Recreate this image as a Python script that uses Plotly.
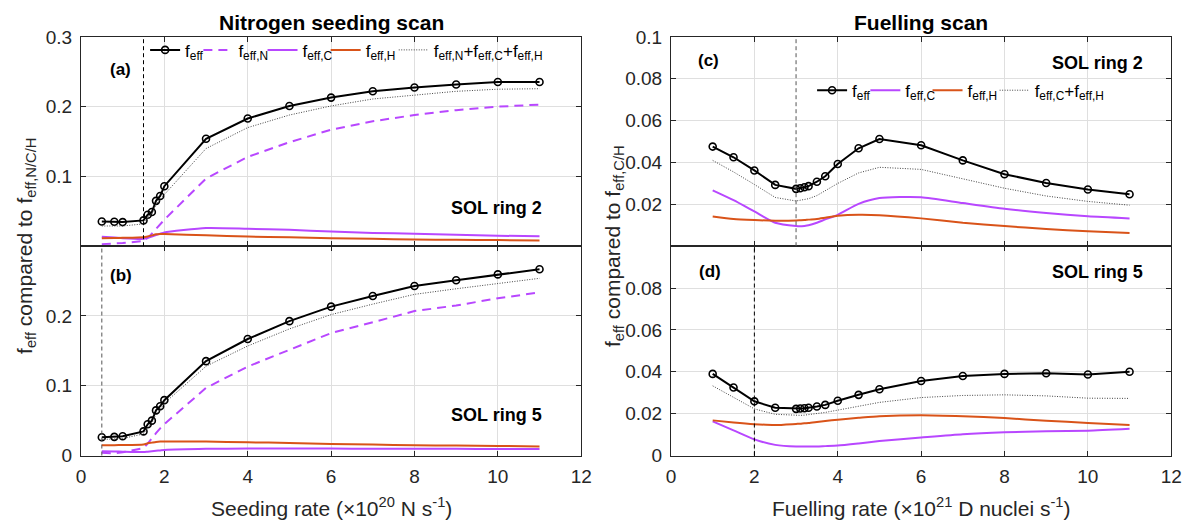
import plotly.graph_objects as go

# ---------------- Nitrogen seeding scan ----------------
seed_rate = [0.5, 0.8, 1.0, 1.5, 1.6, 1.7, 1.8, 1.9, 2.0, 3, 4, 5, 6, 7, 8, 9, 10, 11]

# SOL ring 2
ring2_seed_feff = [0.0355, 0.035, 0.0346, 0.037, 0.045, 0.049, 0.065, 0.072, 0.086,
                   0.154, 0.183, 0.201, 0.213, 0.222, 0.2275, 0.2317, 0.2353, 0.2353]
ring2_seed_N = [0.003, 0.0038, 0.0046, 0.0074, 0.012, 0.018, 0.025, 0.032, 0.038,
                0.097, 0.128, 0.149, 0.167, 0.179, 0.188, 0.195, 0.200, 0.203]
ring2_seed_C = [0.0134, 0.0124, 0.0115, 0.0106, 0.012, 0.014, 0.016, 0.018, 0.0198,
                0.026, 0.025, 0.0235, 0.021, 0.019, 0.018, 0.0166, 0.015, 0.0143]
ring2_seed_H = [0.0115, 0.0118, 0.012, 0.0129, 0.014, 0.0155, 0.017, 0.0175, 0.0175,
                0.0157, 0.0138, 0.013, 0.0115, 0.0106, 0.0097, 0.0092, 0.0088, 0.0083]
ring2_seed_sum = [0.029, 0.0286, 0.029, 0.032, 0.041, 0.046, 0.060, 0.067, 0.074,
                  0.140, 0.170, 0.188, 0.201, 0.211, 0.217, 0.222, 0.225, 0.2257]

# SOL ring 5
ring5_seed_feff = [0.0263, 0.0268, 0.0277, 0.0346, 0.0448, 0.050, 0.0647, 0.0707, 0.0794,
                   0.1353, 0.167, 0.1926, 0.2134, 0.2286, 0.243, 0.2513, 0.2596, 0.267]
ring5_seed_N = [0.004, 0.003, 0.0046, 0.0106, 0.017, 0.025, 0.032, 0.039, 0.045,
                0.097, 0.1275, 0.1515, 0.1755, 0.191, 0.207, 0.215, 0.2254, 0.2337]
ring5_seed_C = [0.006, 0.0058, 0.0055, 0.005, 0.0056, 0.0062, 0.0068, 0.0074, 0.008,
                0.0097, 0.010, 0.010, 0.010, 0.0098, 0.0097, 0.0096, 0.0095, 0.0095]
ring5_seed_H = [0.0148, 0.0149, 0.015, 0.016, 0.0175, 0.0185, 0.0195, 0.020, 0.020,
                0.020, 0.019, 0.018, 0.0166, 0.0157, 0.0148, 0.0143, 0.0138, 0.013]
ring5_seed_sum = [0.023, 0.0235, 0.0245, 0.031, 0.040, 0.046, 0.060, 0.066, 0.075,
                  0.128, 0.157, 0.1815, 0.202, 0.217, 0.231, 0.239, 0.247, 0.254]

# ---------------- Fuelling scan ----------------
fuel_rate = [1.0, 1.5, 2.0, 2.5, 3.0, 3.1, 3.2, 3.3, 3.5, 3.7, 4.0, 4.5, 5, 6, 7, 8, 9, 10, 11]

ring2_fuel_feff = [0.0476, 0.0425, 0.0362, 0.0293, 0.0274, 0.0277, 0.0282, 0.0287, 0.0308,
                   0.0334, 0.0393, 0.0468, 0.0512, 0.0482, 0.041, 0.0344, 0.0302, 0.0271, 0.0248]
ring2_fuel_C = [0.0267, 0.022, 0.0166, 0.0112, 0.0096, 0.0095, 0.0097, 0.0100, 0.0112,
                0.0128, 0.015, 0.0202, 0.023, 0.0234, 0.0206, 0.0179, 0.0159, 0.0143, 0.0133]
ring2_fuel_H = [0.0142, 0.013, 0.0125, 0.0122, 0.0123, 0.0124, 0.0125, 0.0127, 0.013,
                0.0136, 0.0145, 0.015, 0.0148, 0.0133, 0.0112, 0.0096, 0.0082, 0.0071, 0.0063]
ring2_fuel_sum = [0.041, 0.0355, 0.0295, 0.0233, 0.0216, 0.0219, 0.0222, 0.0227, 0.0242,
                  0.0264, 0.030, 0.035, 0.0377, 0.0367, 0.0322, 0.0277, 0.024, 0.0214, 0.0196]

ring5_fuel_feff = [0.039, 0.0325, 0.0259, 0.0228, 0.0223, 0.0225, 0.0226, 0.0228, 0.0234,
                   0.0242, 0.0262, 0.029, 0.0317, 0.0356, 0.038, 0.039, 0.0393, 0.0387, 0.040]
ring5_fuel_C = [0.0163, 0.012, 0.0077, 0.0051, 0.0043, 0.0043, 0.0043, 0.0043, 0.0043,
                0.0045, 0.0048, 0.0058, 0.0069, 0.0086, 0.0102, 0.0111, 0.0116, 0.0119, 0.0128]
ring5_fuel_H = [0.0168, 0.0158, 0.015, 0.0146, 0.0151, 0.0152, 0.0154, 0.0155, 0.016,
                0.0165, 0.0171, 0.018, 0.0188, 0.0193, 0.0188, 0.0179, 0.0166, 0.0156, 0.0146]
ring5_fuel_sum = [0.0333, 0.028, 0.0223, 0.0197, 0.0191, 0.0192, 0.0193, 0.0195, 0.020,
                  0.0206, 0.0217, 0.0235, 0.0254, 0.0277, 0.0287, 0.029, 0.0285, 0.0274, 0.0273]

# Reference operating points (vertical dashed markers)
seed_ref_ring2 = 1.5
seed_ref_ring5 = 0.5
fuel_ref_ring2 = 3.0
fuel_ref_ring5 = 2.0

BLACK = "#000000"
PURPLE = "#B847FF"
ORANGE = "#D95319"
AXIS_GREY = "#262626"
FONT = "Liberation Sans, Arial, sans-serif"

W, H = 1200, 528


def px_x(p):
    return p / W


def px_y(p):
    return 1 - p / H


fig = go.Figure()

# legend slots: each entry gets its own legend box so entries sit side by side
# (left pixel of each entry's line sample)
seed_legend_x = [149, 203, 268, 332, 401]
fuel_legend_x = [825, 879, 942, 1010]
seed_legend_ids = ["legend", "legend2", "legend3", "legend4", "legend5"]
fuel_legend_ids = ["legend6", "legend7", "legend8", "legend9"]


def add_panel(xa, ya, x, feff, C, Hh, tot, N=None, legends=None):
    show = legends is not None
    ids = iter(legends) if legends else None

    def lg():
        return next(ids) if ids else "legend"

    fig.add_trace(go.Scatter(
        x=x, y=feff, xaxis=xa, yaxis=ya, mode="lines+markers",
        line=dict(color=BLACK, width=2),
        marker=dict(symbol="circle-open", size=7, color=BLACK, line=dict(width=1.6)),
        name="f<sub>eff</sub>", showlegend=show, legend=lg()))
    if N is not None:
        fig.add_trace(go.Scatter(
            x=x, y=N, xaxis=xa, yaxis=ya, mode="lines",
            line=dict(color=PURPLE, width=2, dash="9px,6px"),
            name="f<sub>eff,N</sub>", showlegend=show, legend=lg()))
    fig.add_trace(go.Scatter(
        x=x, y=C, xaxis=xa, yaxis=ya, mode="lines",
        line=dict(color=PURPLE, width=2, shape="spline", smoothing=0.6),
        name="f<sub>eff,C</sub>", showlegend=show, legend=lg()))
    fig.add_trace(go.Scatter(
        x=x, y=Hh, xaxis=xa, yaxis=ya, mode="lines",
        line=dict(color=ORANGE, width=2, shape="spline", smoothing=0.6),
        name="f<sub>eff,H</sub>", showlegend=show, legend=lg()))
    sum_name = ("f<sub>eff,N</sub>+f<sub>eff,C</sub>+f<sub>eff,H</sub>" if N is not None
                else "f<sub>eff,C</sub>+f<sub>eff,H</sub>")
    fig.add_trace(go.Scatter(
        x=x, y=tot, xaxis=xa, yaxis=ya, mode="lines",
        line=dict(color="#444444", width=1, dash="1px,1.5px"),
        name=sum_name, showlegend=show, legend=lg()))


add_panel("x", "y", seed_rate, ring2_seed_feff, ring2_seed_C, ring2_seed_H, ring2_seed_sum,
          N=ring2_seed_N, legends=seed_legend_ids)
add_panel("x2", "y2", seed_rate, ring5_seed_feff, ring5_seed_C, ring5_seed_H, ring5_seed_sum,
          N=ring5_seed_N)
add_panel("x3", "y3", fuel_rate, ring2_fuel_feff, ring2_fuel_C, ring2_fuel_H, ring2_fuel_sum,
          legends=fuel_legend_ids)
add_panel("x4", "y4", fuel_rate, ring5_fuel_feff, ring5_fuel_C, ring5_fuel_H, ring5_fuel_sum)

# panel geometry (pixels)
L_LEFT, L_RIGHT = 77, 584
R_LEFT, R_RIGHT = 675, 1182
TOP, MID, BOT = 28, 246, 464

dom_left = [px_x(L_LEFT), px_x(L_RIGHT)]
dom_right = [px_x(R_LEFT), px_x(R_RIGHT)]
dom_top = [px_y(MID), px_y(TOP)]
dom_bot = [px_y(BOT), px_y(MID)]

tick_font = dict(family=FONT, size=19, color=AXIS_GREY)
x_ticks = [0, 2, 4, 6, 8, 10, 12]


def xax(domain, anchor, labels):
    return dict(domain=domain, anchor=anchor, range=[0, 12], tickvals=x_ticks,
                showticklabels=labels, ticks="inside", ticklen=5, tickcolor=AXIS_GREY,
                showline=True, linecolor=AXIS_GREY, linewidth=1, mirror="allticks",
                showgrid=True, gridcolor="#DFDFDF", gridwidth=1, zeroline=False,
                tickfont=tick_font, ticklabelstandoff=4)


def yax(domain, anchor, rng, vals, text):
    return dict(domain=domain, anchor=anchor, range=rng, tickvals=vals, ticktext=text,
                ticks="inside", ticklen=5, tickcolor=AXIS_GREY,
                showline=True, linecolor=AXIS_GREY, linewidth=1, mirror="allticks",
                showgrid=True, gridcolor="#DFDFDF", gridwidth=1, zeroline=False,
                tickfont=tick_font, ticklabelstandoff=4)


seed_y = [0, 0.1, 0.2, 0.3]
fuel_y = [0, 0.02, 0.04, 0.06, 0.08, 0.1]

fig.update_layout(
    xaxis=xax(dom_left, "y", False),
    yaxis=yax(dom_top, "x", [0, 0.3], seed_y, ["", "0.1", "0.2", "0.3"]),
    xaxis2=xax(dom_left, "y2", True),
    yaxis2=yax(dom_bot, "x2", [0, 0.3], seed_y, ["0", "0.1", "0.2", ""]),
    xaxis3=xax(dom_right, "y3", False),
    yaxis3=yax(dom_top, "x3", [0, 0.1], fuel_y, ["", "0.02", "0.04", "0.06", "0.08", "0.1"]),
    xaxis4=xax(dom_right, "y4", True),
    yaxis4=yax(dom_bot, "x4", [0, 0.1], fuel_y, ["0", "0.02", "0.04", "0.06", "0.08", ""]),
)

# vertical reference lines
for xa, ya, xv, col in [("x", "y", seed_ref_ring2, "#000000"),
                        ("x2", "y2", seed_ref_ring5, "#555555"),
                        ("x3", "y3", fuel_ref_ring2, "#555555"),
                        ("x4", "y4", fuel_ref_ring5, "#000000")]:
    fig.add_shape(type="line", xref=xa, yref=ya + " domain", x0=xv, x1=xv, y0=0, y1=1,
                  line=dict(color=col, width=1, dash="4px,3px"))

legend_style = dict(orientation="h", bgcolor="rgba(0,0,0,0)", borderwidth=0,
                    font=dict(family=FONT, size=17, color="#000000"),
                    xanchor="left", yanchor="middle", itemwidth=30)
legend_layout = {}
for lid, xp in zip(seed_legend_ids, seed_legend_x):
    legend_layout[lid] = dict(x=px_x(xp - 7), y=px_y(42), **legend_style)
for lid, xp in zip(fuel_legend_ids, fuel_legend_x):
    legend_layout[lid] = dict(x=px_x(xp - 7), y=px_y(84), **legend_style)
fig.update_layout(**legend_layout)

ann = []


def text(xp, yp, s, size=17, bold=False, xanchor="center", angle=0, color="#000000"):
    ann.append(dict(x=px_x(xp), y=px_y(yp), xref="paper", yref="paper", showarrow=False,
                    text=f"<b>{s}</b>" if bold else s, textangle=angle,
                    font=dict(family=FONT, size=size, color=color),
                    xanchor=xanchor, yanchor="middle"))


text((L_LEFT + L_RIGHT) / 2, 13, "Nitrogen seeding scan", size=21, bold=True)
text((R_LEFT + R_RIGHT) / 2, 13, "Fuelling scan", size=21, bold=True)
text(117, 62, "(a)", size=17, bold=True)
text(118, 277, "(b)", size=17, bold=True)
text(713, 53, "(c)", size=17, bold=True)
text(715, 272, "(d)", size=17, bold=True)
text(546, 206, "SOL ring 2", size=18, bold=True, xanchor="right")
text(546, 422, "SOL ring 5", size=18, bold=True, xanchor="right")
text(1155, 55, "SOL ring 2", size=18, bold=True, xanchor="right")
text(1155, 273, "SOL ring 5", size=18, bold=True, xanchor="right")
text((L_LEFT + L_RIGHT) / 2, 518, "Seeding rate (×10<sup>20</sup> N s<sup>-1</sup>)",
     size=21, color=AXIS_GREY)
text((R_LEFT + R_RIGHT) / 2, 518, "Fuelling rate (×10<sup>21</sup> D nuclei s<sup>-1</sup>)",
     size=21, color=AXIS_GREY)
text(21, 246, "f<sub>eff</sub> compared to f<sub>eff,N/C/H</sub>", size=21, angle=-90,
     color=AXIS_GREY)
text(617, 246, "f<sub>eff</sub> compared to f<sub>eff,C/H</sub>", size=21, angle=-90,
     color=AXIS_GREY)

fig.update_layout(
    width=W, height=H, margin=dict(l=0, r=0, t=0, b=0),
    paper_bgcolor="white", plot_bgcolor="white",
    annotations=ann, font=dict(family=FONT),
)

fig.write_html("out.html")
